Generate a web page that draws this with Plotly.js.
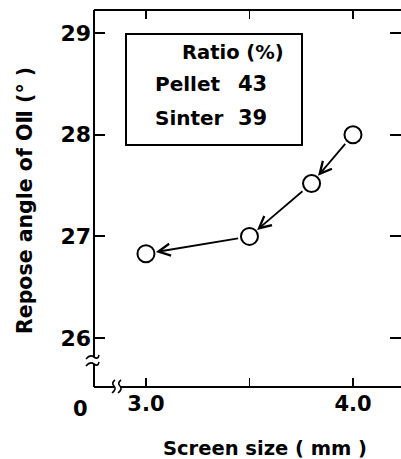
<!DOCTYPE html>
<html>
<head>
<meta charset="utf-8">
<script src="https://cdn.plot.ly/plotly-3.0.1.min.js"></script>
<style>html,body{margin:0;padding:0;background:#fff;}#chart{width:401px;height:459px;}</style>
</head>
<body>
<div id="chart"></div>
<script>
// Data
const screenSize = [4.0, 3.8, 3.5, 3.0];
const reposeAngle = [28.0, 27.52, 27.0, 26.83];
const xTickVals = [3.0, 3.5, 4.0];
const xTickText = ['3.0', '', '4.0'];
const yTickVals = [26, 27, 28, 29];
const xTitle = 'Screen size ( mm )';
const yTitle = 'Repose angle of OⅡ (° )';
const legendTitle = 'Ratio (%)';
const ratioNames = ['Pellet', 'Sinter'];
const ratioValues = [43, 39];

const FONT = 'DejaVu Sans, Liberation Sans, Arial, sans-serif';
const W = 401, H = 459;
const M = {l: 94, r: 0, t: 10, b: 72};
const PW = W - M.l - M.r, PH = H - M.t - M.b;
const px = v => (v - M.l) / PW;          // pixel x -> paper
const py = v => (H - M.b - v) / PH;      // pixel y -> paper
const bold = (s, size) => ({family: FONT, size: size, color: '#000', weight: 'bold'});

const trace = {
  x: screenSize, y: reposeAngle, type: 'scatter', mode: 'markers',
  marker: {symbol: 'circle', size: 17, color: '#fff', line: {color: '#000', width: 2}},
  hoverinfo: 'skip', showlegend: false
};

const annotations = [];
for (let i = 0; i < screenSize.length - 1; i++) {
  annotations.push({
    x: screenSize[i + 1], y: reposeAngle[i + 1], xref: 'x', yref: 'y',
    ax: screenSize[i], ay: reposeAngle[i], axref: 'x', ayref: 'y',
    showarrow: true, arrowhead: 5, arrowsize: 1.3, arrowwidth: 1.8, arrowcolor: '#000',
    standoff: 10, startstandoff: 10, text: ''
  });
}
// "0" origin label
annotations.push({x: px(80), y: py(409), xref: 'paper', yref: 'paper', text: '0', showarrow: false,
  font: bold(FONT, 21), xanchor: 'center', yanchor: 'middle'});
// axis titles
annotations.push({x: px(265), y: py(448), xref: 'paper', yref: 'paper', text: xTitle, showarrow: false,
  font: bold(FONT, 19.5), xanchor: 'center', yanchor: 'middle'});
annotations.push({x: px(25), y: py(201), xref: 'paper', yref: 'paper', text: yTitle, showarrow: false, textangle: -90,
  font: bold(FONT, 20.5), xanchor: 'center', yanchor: 'middle'});
// Legend box texts
annotations.push({x: px(233), y: py(53), xref: 'paper', yref: 'paper', text: legendTitle, showarrow: false,
  font: bold(FONT, 19.5), xanchor: 'center', yanchor: 'middle'});
const rowY = [84, 118];
ratioNames.forEach((n, i) => {
  annotations.push({x: px(153), y: py(rowY[i]), xref: 'paper', yref: 'paper', text: n, showarrow: false,
    font: bold(FONT, 20), xanchor: 'left', yanchor: 'middle'});
  annotations.push({x: px(269), y: py(rowY[i]), xref: 'paper', yref: 'paper', text: String(ratioValues[i]), showarrow: false,
    font: bold(FONT, 21), xanchor: 'right', yanchor: 'middle'});
});

const L = {color: '#000', width: 2};
const shapes = [
  // frame lines (left with break, bottom with break, top)
  {type: 'line', xref: 'paper', yref: 'paper', x0: 0, x1: 0, y0: 1, y1: py(357), line: L, layer: 'above'},
  {type: 'line', xref: 'paper', yref: 'paper', x0: 0, x1: 0, y0: py(364), y1: 0, line: L, layer: 'above'},
  {type: 'line', xref: 'paper', yref: 'paper', x0: 0, x1: px(114), y0: 0, y1: 0, line: L, layer: 'above'},
  {type: 'line', xref: 'paper', yref: 'paper', x0: px(120), x1: 1, y0: 0, y1: 0, line: L, layer: 'above'},
  {type: 'line', xref: 'paper', yref: 'paper', x0: 0, x1: 1, y0: 1, y1: 1, line: L, layer: 'above'},
  // legend box
  {type: 'rect', xref: 'paper', yref: 'paper', x0: px(126), x1: px(302), y0: py(34), y1: py(145),
   line: {color: '#000', width: 2}, fillcolor: 'rgba(0,0,0,0)'},
  // y-axis break marks
  {type: 'path', xref: 'paper', yref: 'paper', layer: 'above', line: {color: '#000', width: 1.6},
   path: `M${px(86)},${py(359)} Q${px(90)},${py(354)} ${px(94)},${py(357)} T${px(99)},${py(355)}`},
  {type: 'path', xref: 'paper', yref: 'paper', layer: 'above', line: {color: '#000', width: 1.6},
   path: `M${px(86)},${py(366)} Q${px(90)},${py(361)} ${px(94)},${py(364)} T${px(99)},${py(362)}`},
  // x-axis break marks
  {type: 'path', xref: 'paper', yref: 'paper', layer: 'above', line: {color: '#000', width: 1.6},
   path: `M${px(112)},${py(393)} Q${px(117)},${py(389)} ${px(114)},${py(386)} T${px(115)},${py(380)}`},
  {type: 'path', xref: 'paper', yref: 'paper', layer: 'above', line: {color: '#000', width: 1.6},
   path: `M${px(118)},${py(393)} Q${px(123)},${py(389)} ${px(120)},${py(386)} T${px(121)},${py(380)}`}
];

const layout = {
  width: W, height: H, margin: M,
  paper_bgcolor: '#fff', plot_bgcolor: '#fff',
  showlegend: false,
  font: {family: FONT, color: '#000'},
  xaxis: {
    range: [2.749, 4.232], tickvals: xTickVals, ticktext: xTickText,
    ticks: 'inside', ticklen: 9, tickwidth: 1.8, tickcolor: '#000',
    showline: false, mirror: 'ticks',
    showgrid: false, zeroline: false,
    tickfont: bold(FONT, 21), ticklabelstandoff: 2
  },
  yaxis: {
    range: [25.519, 29.226], tickvals: yTickVals,
    ticks: 'inside', ticklen: 11, tickwidth: 1.8, tickcolor: '#000',
    showline: false, mirror: 'ticks',
    showgrid: false, zeroline: false,
    tickfont: bold(FONT, 22), ticklabelstandoff: 2
  },
  annotations: annotations,
  shapes: shapes
};

Plotly.newPlot('chart', [trace], layout, {displayModeBar: false, staticPlot: true});
</script>
</body>
</html>
